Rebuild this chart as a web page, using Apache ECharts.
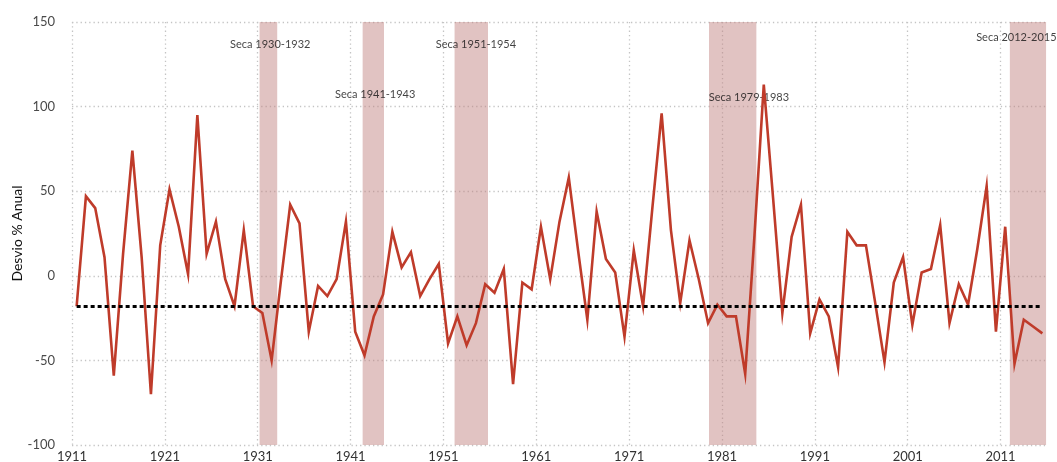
<!DOCTYPE html>
<html>
<head>
<meta charset="utf-8">
<script src="https://cdn.jsdelivr.net/npm/echarts@6/dist/echarts.min.js"></script>
<style>
  html, body { margin: 0; padding: 0; background: #fff; }
  #chart { width: 1057px; height: 462px; }
</style>
</head>
<body>
<div id="chart"></div>
<script>
// Desvio percentual anual, 1911-2015
const anoInicial = 1911;
const desvio = [
  -18, 47, 40, 11, -59, 13, 74, 11, -70, 18,
   51, 29,  1, 95,  13, 32, -2, -18, 27, -18,
  -22, -50, -3, 42, 31, -33, -6, -12, -2, 32,
  -33, -47, -24, -11, 26, 5, 14, -12, -2, 7,
  -40, -24, -41, -28, -5, -10, 4, -64, -4, -8,
   29, -2, 32, 58, 15, -26, 38, 10, 2, -36,
   15, -18, 40, 96, 27, -16, 21, -2, -28, -17,
  -24, -24, -58, 24, 113, 46, -22, 23, 42, -34,
  -14, -24, -54, 26, 18, 18, -16, -51, -4, 11,
  -29, 2, 4, 30, -28, -5, -17, 16, 53, -33,
   29, -52, -26, -30, -34
];
const anos = desvio.map((_, i) => String(anoInicial + i));

// Linha de referência (média)
const mediaReferencia = -18;

// Rótulos do eixo horizontal (a cada 10 anos)
const rotulosAnos = ['1911', '1921', '1931', '1941', '1951', '1961', '1971', '1981', '1991', '2001', '2011'];

// Períodos de seca: início e fim (em anos) das faixas sombreadas
const secasInicio = [1931.2, 1942.3, 1952.2, 1979.6, 2012.0];
const secasFim    = [1933.1, 1944.6, 1955.8, 1984.7, 2015.9];

// Textos das secas e sua posição (ano, valor)
const secasTexto = ['Seca 1930-1932', 'Seca 1941-1943', 'Seca 1951-1954', 'Seca 1979-1983', 'Seca 2012-2015'];
const secasTextoAno = [1932.35, 1943.65, 1954.5, 1983.9, 2012.7];
const secasTextoValor = [137, 107, 137, 105.5, 141];

const fonte = 'Lato, "Liberation Sans", sans-serif';
const gradeEstilo = { color: '#c4c4c4', width: 1.3, type: [1.3, 3] };

const chart = echarts.init(document.getElementById('chart'), null, { renderer: 'canvas' });

chart.setOption({
  backgroundColor: '#ffffff',
  animation: false,
  grid: {
    left: 72, right: 10, top: 22, bottom: 17,
    containLabel: false,
    outerBoundsMode: 'none'
  },
  xAxis: [
    {
      // eixo de categorias onde a série anual é desenhada
      type: 'category',
      data: anos,
      boundaryGap: true,
      show: false
    },
    {
      // eixo de anos (deslocamento a partir de 1911) para grade, rótulos e faixas
      type: 'value',
      min: 0,
      max: desvio.length,
      interval: 10,
      position: 'bottom',
      axisLine: { show: false },
      axisTick: { show: false },
      axisLabel: {
        color: '#333',
        fontSize: 13,
        fontFamily: fonte,
        margin: 5,
        showMaxLabel: false,
        formatter: v => rotulosAnos[Math.round(v / 10)] || ''
      },
      splitLine: { show: true, showMaxLine: false, lineStyle: gradeEstilo }
    }
  ],
  yAxis: {
    type: 'value',
    min: -100,
    max: 150,
    interval: 50,
    name: 'Desvio % Anual',
    nameLocation: 'middle',
    nameGap: 48,
    nameMoveOverlap: false,
    nameTextStyle: { color: '#111', fontSize: 14, fontFamily: fonte },
    axisLine: { show: false },
    axisTick: { show: false },
    axisLabel: { color: '#4a4a4a', fontSize: 13, fontFamily: fonte, margin: 17 },
    splitLine: { show: true, lineStyle: gradeEstilo }
  },
  series: [
    {
      // faixas de seca e seus rótulos
      type: 'scatter',
      xAxisIndex: 1,
      symbolSize: 0,
      z: 1,
      data: secasTexto.map((t, i) => ({ value: [secasTextoAno[i] - anoInicial, secasTextoValor[i]], name: t })),
      label: {
        show: true,
        position: 'inside',
        formatter: p => p.name,
        color: '#111',
        fontSize: 11,
        fontFamily: fonte
      },
      markArea: {
        silent: true,
        itemStyle: { color: 'rgba(192,128,126,0.47)' },
        data: secasInicio.map((ini, i) => [
          { xAxis: ini - anoInicial },
          { xAxis: secasFim[i] - anoInicial }
        ])
      }
    },
    {
      name: 'Desvio',
      type: 'line',
      xAxisIndex: 0,
      data: desvio,
      symbol: 'none',
      z: 3,
      lineStyle: { color: '#bf3b2a', width: 2.6, join: 'miter' },
      markLine: {
        silent: true,
        symbol: 'none',
        label: { show: false },
        z: 4,
        lineStyle: { color: '#000', width: 2.8, type: [4, 3] },
        data: [[
          { coord: [anos[0], mediaReferencia] },
          { coord: [anos[anos.length - 1], mediaReferencia] }
        ]]
      }
    }
  ]
});
</script>
</body>
</html>
